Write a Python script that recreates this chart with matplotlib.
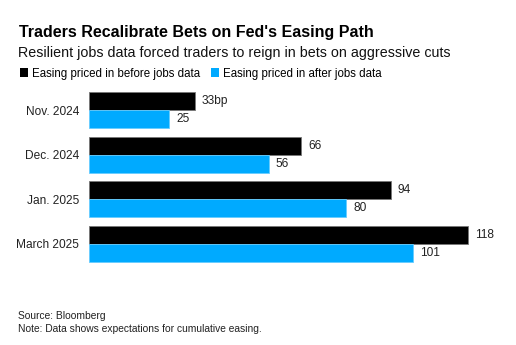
import matplotlib
matplotlib.use("Agg")
import matplotlib.pyplot as plt
from matplotlib.patches import Patch
import numpy as np

plt.rcParams['font.family'] = ['Liberation Sans', 'DejaVu Sans']

categories = ["Nov. 2024", "Dec. 2024", "Jan. 2025", "March 2025"]
before_jobs = [33, 66, 94, 118]
after_jobs = [25, 56, 80, 101]
series_names = ["Easing priced in before jobs data", "Easing priced in after jobs data"]

BLACK = "#000000"
BLUE = "#00AAFF"

W, H = 516, 345
fig = plt.figure(figsize=(W / 100, H / 100), dpi=100)

# axes placed in pixel coordinates
left, right, top, bottom = 89, 500, 87.7, 266.3
ax = fig.add_axes([left / W, 1 - bottom / H, (right - left) / W, (bottom - top) / H])

y = np.arange(len(categories))
h = 0.40
ax.barh(y - h / 2, before_jobs, height=h, color=BLACK, edgecolor="#777777", linewidth=0.6)
ax.barh(y + h / 2, after_jobs, height=h, color=BLUE, edgecolor="#66CCFF", linewidth=0.6)

for i, (b, a) in enumerate(zip(before_jobs, after_jobs)):
    lab = f"{b}bp" if i == 0 else f"{b}"
    ax.text(b + 2.2, y[i] - h / 2, lab, va="center", ha="left", fontsize=8.6, color="#222222")
    ax.text(a + 2.2, y[i] + h / 2, f"{a}", va="center", ha="left", fontsize=8.6, color="#222222")

ax.set_xlim(0, (right - left) / ((468 - 89) / 118))
ax.set_ylim(3.5, -0.5)
ax.set_yticks(y)
ax.set_yticklabels(categories, fontsize=8.6, color="#222222")
ax.set_xticks([])
ax.tick_params(axis="y", length=0, pad=7)
for s in ax.spines.values():
    s.set_visible(False)

# titles
fig.text(19 / W, 1 - 33 / H, "Traders Recalibrate Bets on Fed's Easing Path",
         fontsize=11.5, fontweight="bold", va="center", ha="left", color="#000000")
fig.text(18 / W, 1 - 53 / H, "Resilient jobs data forced traders to reign in bets on aggressive cuts",
         fontsize=10.25, va="center", ha="left", color="#111111")

# legend
handles = [Patch(facecolor=BLACK, edgecolor="none"), Patch(facecolor=BLUE, edgecolor="none")]
fig.legend(handles, series_names, loc="center left", bbox_to_anchor=(20 / W, 1 - 73.5 / H),
           ncol=2, frameon=False, fontsize=8.3, handlelength=0.7, handleheight=0.7,
           handletextpad=0.35, columnspacing=0.9, borderaxespad=0, borderpad=0)

# footer
fig.text(18 / W, 1 - 316 / H, "Source: Bloomberg", fontsize=7.4, va="center", ha="left", color="#222222")
fig.text(18 / W, 1 - 329 / H, "Note: Data shows expectations for cumulative easing.",
         fontsize=7.4, va="center", ha="left", color="#222222")

fig.savefig("out.png", dpi=100, facecolor="white")
